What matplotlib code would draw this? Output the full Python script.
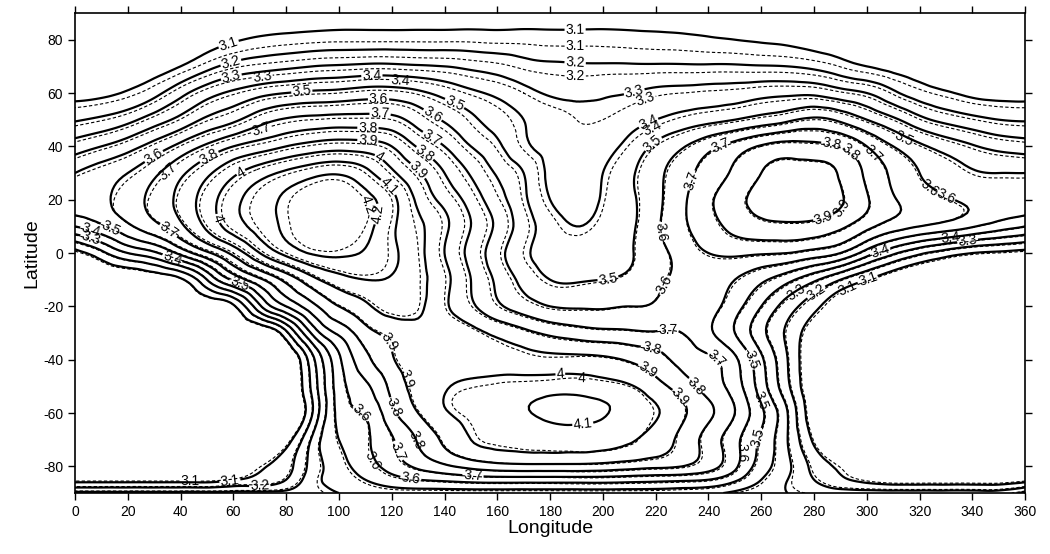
import numpy as np
import matplotlib
matplotlib.use("Agg")
import matplotlib.pyplot as plt
import matplotlib.tri as mtri

plt.rcParams['font.family'] = ['Liberation Sans', 'DejaVu Sans']
plt.rcParams['axes.unicode_minus'] = False

# grid of the field (solid contours)
lons = list(range(0, 360, 10))
lats = [90, 80, 70, 60, 50, 40, 30, 20, 10, 0, -10, -20, -30, -40, -50, -60, -70, -80, -85, -90]

solid_field = [
    [3.0]*9 + [3.01] + [3.03]*13 + [3.02, 3.01] + [3.0]*11,
    [3.0, 3.0, 3.0, 3.01, 3.03, 3.06, 3.09, 3.115, 3.13, 3.14, 3.145, 3.145, 3.145, 3.145, 3.145, 3.145, 3.14,
     3.14, 3.135, 3.135, 3.135, 3.13, 3.125, 3.12, 3.11, 3.1, 3.09, 3.08, 3.06, 3.04, 3.02, 3.01, 3.0, 3.0,
     3.0, 3.0],
    [3.02, 3.02, 3.04, 3.06, 3.1, 3.17, 3.23, 3.26, 3.28, 3.3, 3.31, 3.32, 3.32, 3.31, 3.3, 3.28, 3.26, 3.23,
     3.215, 3.21, 3.21, 3.21, 3.21, 3.21, 3.21, 3.21, 3.205, 3.2, 3.18, 3.14, 3.1, 3.07, 3.05, 3.03,
     3.02, 3.02],
    [3.07, 3.08, 3.11, 3.17, 3.27, 3.36, 3.42, 3.47, 3.5, 3.52, 3.53, 3.55, 3.55, 3.52, 3.47, 3.42, 3.38, 3.33,
     3.29, 3.28, 3.29, 3.3, 3.32, 3.33, 3.34, 3.35, 3.37, 3.38, 3.38, 3.34, 3.3, 3.22, 3.15, 3.11, 3.08, 3.07],
    [3.19, 3.22, 3.27, 3.35, 3.43, 3.52, 3.58, 3.66, 3.71, 3.73, 3.74, 3.74, 3.73, 3.66, 3.59, 3.52, 3.46, 3.4,
     3.36, 3.33, 3.33, 3.36, 3.4, 3.44, 3.47, 3.5, 3.54, 3.58, 3.62, 3.58, 3.5, 3.42, 3.33, 3.27, 3.23, 3.2],
    [3.35, 3.4, 3.46, 3.54, 3.63, 3.72, 3.8, 3.85, 3.9, 3.94, 3.96, 3.95, 3.9, 3.79, 3.7, 3.6, 3.52, 3.42,
     3.37, 3.35, 3.37, 3.43, 3.52, 3.59, 3.67, 3.74, 3.81, 3.84, 3.83, 3.8, 3.7, 3.6, 3.52, 3.46, 3.41, 3.37],
    [3.5, 3.55, 3.6, 3.68, 3.78, 3.88, 3.98, 4.06, 4.12, 4.17, 4.19, 4.13, 4.02, 3.91, 3.8, 3.69, 3.59, 3.5,
     3.38, 3.36, 3.4, 3.48, 3.57, 3.66, 3.74, 3.82, 3.9, 3.93, 3.93, 3.89, 3.78, 3.68, 3.6, 3.55, 3.51, 3.5],
    [3.56, 3.58, 3.65, 3.73, 3.83, 3.95, 4.07, 4.15, 4.22, 4.27, 4.28, 4.23, 4.13, 3.98, 3.87, 3.76, 3.64, 3.52,
     3.4, 3.36, 3.41, 3.48, 3.57, 3.68, 3.78, 3.87, 3.93, 3.96, 3.95, 3.91, 3.81, 3.71, 3.65, 3.61, 3.58, 3.56],
    [3.4, 3.48, 3.58, 3.67, 3.78, 3.92, 4.05, 4.14, 4.22, 4.27, 4.27, 4.23, 4.12, 4.02, 3.92, 3.8, 3.68, 3.55,
     3.45, 3.4, 3.43, 3.48, 3.58, 3.68, 3.76, 3.83, 3.87, 3.88, 3.87, 3.82, 3.73, 3.65, 3.6, 3.56, 3.51, 3.45],
    [3.06, 3.17, 3.3, 3.38, 3.53, 3.68, 3.83, 4.0, 4.13, 4.21, 4.22, 4.19, 4.12, 4.03, 3.9, 3.77, 3.64, 3.52,
     3.46, 3.44, 3.45, 3.49, 3.56, 3.64, 3.7, 3.72, 3.71, 3.7, 3.66, 3.6, 3.45, 3.32, 3.22, 3.15, 3.1, 3.08],
    [2.97, 2.98, 2.99, 3.02, 3.08, 3.3, 3.52, 3.68, 3.83, 3.97, 4.06, 4.1, 4.09, 4.03, 3.93, 3.8, 3.68, 3.57,
     3.5, 3.49, 3.5, 3.52, 3.57, 3.63, 3.64, 3.6, 3.52, 3.43, 3.32, 3.2, 3.1, 3.02, 2.98, 2.97, 2.97, 2.97],
    [2.95, 2.95, 2.95, 2.96, 2.97, 3.0, 3.08, 3.38, 3.6, 3.77, 3.9, 3.98, 4.04, 4.02, 3.92, 3.82, 3.72, 3.65,
     3.6, 3.59, 3.59, 3.6, 3.61, 3.66, 3.64, 3.54, 3.4, 3.25, 3.13, 3.02, 2.97, 2.95, 2.95, 2.95, 2.95, 2.95],
    [2.94, 2.94, 2.93, 2.93, 2.93, 2.94, 2.95, 2.98, 3.17, 3.52, 3.72, 3.86, 3.93, 3.97, 3.96, 3.93, 3.88, 3.83,
     3.78, 3.75, 3.73, 3.72, 3.71, 3.7, 3.62, 3.5, 3.33, 3.18, 3.03, 2.96, 2.94, 2.94, 2.94, 2.94, 2.94, 2.94],
    [2.93, 2.92, 2.92, 2.92, 2.92, 2.92, 2.92, 2.93, 2.97, 3.27, 3.58, 3.77, 3.89, 3.94, 3.96, 3.96, 3.95, 3.94,
     3.93, 3.93, 3.92, 3.89, 3.84, 3.77, 3.72, 3.62, 3.42, 3.2, 3.0, 2.93, 2.93, 2.93, 2.93, 2.93, 2.93, 2.93],
    [2.92]*8 + [2.96, 3.23, 3.55, 3.68, 3.83, 3.93, 3.99, 4.02, 4.04, 4.05, 4.06, 4.06, 4.04, 4.01, 3.94, 3.85,
                3.76, 3.65, 3.45, 3.22, 3.0] + [2.93]*7,
    [2.92]*8 + [2.95, 3.2, 3.53, 3.61, 3.77, 3.9, 3.99, 4.03, 4.06, 4.09, 4.12, 4.13, 4.11, 4.06, 4.01, 3.92,
                3.82, 3.7, 3.52, 3.3, 3.02] + [2.93]*7,
    [2.93]*7 + [2.95, 3.05, 3.32, 3.5, 3.58, 3.69, 3.81, 3.92, 4.0, 4.03, 4.04, 4.05, 4.05, 4.04, 4.01, 3.96,
                3.87, 3.76, 3.63, 3.48, 3.3, 3.08, 2.96] + [2.94]*6,
    [2.96]*7 + [3.08, 3.16, 3.34, 3.46, 3.55, 3.64, 3.72, 3.78, 3.83, 3.86, 3.87, 3.87, 3.87, 3.86, 3.84, 3.82,
                3.8, 3.74, 3.62, 3.45, 3.32, 3.17, 3.08, 3.02] + [2.98]*5,
    [3.06]*6 + [3.09, 3.13, 3.2, 3.36, 3.44, 3.5, 3.56, 3.6, 3.62, 3.64, 3.65, 3.65, 3.65, 3.65, 3.65, 3.64, 3.63,
                3.62, 3.6, 3.52, 3.4, 3.3, 3.2, 3.12, 3.07] + [3.04]*5,
    [3.33]*9 + [3.36, 3.4, 3.43] + [3.45]*11 + [3.44, 3.42, 3.38, 3.34, 3.3, 3.27] + [3.25]*7,
]

# offset of the dashed field from the solid one, on a coarse grid
delta_lats = [90, 60, 30, 0, -30, -60, -90]
delta_lons = [0, 60, 120, 180, 240, 300, 360]
dashed_offset = [
    [-0.07, -0.07, -0.07, -0.07, -0.07, -0.07, -0.07],
    [-0.03, -0.03, -0.03, -0.03, -0.03, -0.03, -0.03],
    [-0.02, -0.03, -0.03, -0.03, 0.0, 0.0, -0.02],
    [0.02, -0.03, -0.03, -0.02, 0.01, 0.01, 0.02],
    [0.02, 0.02, -0.01, -0.01, 0.0, 0.02, 0.02],
    [0.02, 0.02, 0.0, -0.04, 0.0, 0.02, 0.02],
    [0.02, 0.02, 0.02, 0.02, 0.02, 0.02, 0.02],
]

levels = [3.1, 3.2, 3.3, 3.4, 3.5, 3.6, 3.7, 3.8, 3.9, 4.0, 4.1, 4.2]

# where the contour labels sit (lon, lat)
solid_label_pos = [
    (58, 79), (59, 71.6), (59.5, 65), (86, 60), (112.5, 66), (115, 57.4), (115.6, 52.5), (111, 48),
    (111, 43.5), (115, 35.6), (143, 54.4), (135, 51), (135, 43), (132.6, 37.5), (130, 31), (50, 37.5),
    (30, 36), (63, 30), (14, 10.5), (5.7, 7.9), (5.7, 4.9), (37, 11), (56, 13.5), (37, -1.5),
    (62.5, -11), (111, 15.4), (117.5, 23.6), (189.5, 82.5), (189.5, 71.6), (212, 60), (216.7, 50),
    (219, 41), (244.4, 40.5), (287, 42.4), (292.5, 36), (282, 18), (328.5, 18.7), (233, 27.4),
    (222.8, 8), (305, 1), (338, 5.6), (281, -15), (301, -12), (202, -10), (224.7, -12.7),
    (224.7, -29), (218, -37), (216.7, -44), (241.8, -41), (237.6, -47.6), (230.4, -53), (184, -47.6),
    (192.5, -65.6), (255.8, -40), (257.7, -69), (118.6, -33.4), (121, -57.7), (125.8, -73),
    (108.8, -59.6), (127, -86.2), (150.8, -83), (58.7, -85.5), (70, -87),
]
dashed_label_pos = [
    (71, 65.5), (123, 64), (71, 45), (34, 32), (189.5, 78.7), (189.5, 66.7), (216, 58), (218, 48),
    (303.9, 38.6), (313.4, 41.2), (290, 17.2), (325, 26.2), (331.6, 6.7), (292.5, -12.7),
    (274.7, -17), (192, -48.7), (124, -47.6), (130, -70), (114.4, -77), (258.4, -56), (252, -75),
    (43.6, -84), (108, 17),
]

# build the grids (wrap 360 = 0)
z_solid = np.array(solid_field)
z_solid = np.hstack([z_solid, z_solid[:, :1]])
lon_grid = np.array(lons + [360])
LON, LAT = np.meshgrid(lon_grid, np.array(lats, dtype=float))
ny, nx = z_solid.shape
idx = np.arange(ny * nx).reshape(ny, nx)
triangles = []
for i in range(ny - 1):
    for j in range(nx - 1):
        triangles.append([idx[i, j], idx[i, j + 1], idx[i + 1, j]])
        triangles.append([idx[i, j + 1], idx[i + 1, j + 1], idx[i + 1, j]])
tri = mtri.Triangulation(LON.ravel(), LAT.ravel(), np.array(triangles))

# dashed field = solid + offset
DLON, DLAT = np.meshgrid(np.array(delta_lons, dtype=float), np.array(delta_lats, dtype=float))
tri_d = mtri.Triangulation(DLON.ravel(), DLAT.ravel())
off = mtri.LinearTriInterpolator(tri_d, np.array(dashed_offset).ravel())(LON, LAT)
z_dashed = z_solid + np.ma.filled(off, 0.0)

refiner = mtri.UniformTriRefiner(tri)
interp_s = mtri.CubicTriInterpolator(tri, z_solid.ravel(), kind='min_E')
tri_f, zs_f = refiner.refine_field(z_solid.ravel(), triinterpolator=interp_s, subdiv=3)
interp_d = mtri.CubicTriInterpolator(tri, z_dashed.ravel(), kind='min_E')
tri_f2, zd_f = refiner.refine_field(z_dashed.ravel(), triinterpolator=interp_d, subdiv=3)

fig = plt.figure(figsize=(10.5, 5.54), dpi=100)
ax = fig.add_axes([0.0714, 0.110, 0.905, 0.8665])

cd = ax.tricontour(tri_f2, zd_f, levels=levels, colors='k', linewidths=0.8,
                   linestyles=[(0, (3, 2))])
cs = ax.tricontour(tri_f, zs_f, levels=levels, colors='k', linewidths=1.6)
ax.set_xlim(0, 360)
ax.set_ylim(-90, 90)
ax.clabel(cd, fmt='%g', fontsize=10, inline=True, inline_spacing=1, manual=dashed_label_pos)
ax.clabel(cs, fmt='%g', fontsize=10, inline=True, inline_spacing=1, manual=solid_label_pos)

ax.set_xticks(range(0, 361, 20))
ax.set_yticks(range(-80, 81, 20))
ax.tick_params(direction='out', top=True, right=True, labelsize=10, length=5, width=1)
for s in ax.spines.values():
    s.set_linewidth(1.2)
ax.set_xlabel('Longitude', fontsize=14, labelpad=1)
ax.set_ylabel('Latitude', fontsize=14, labelpad=2)

fig.savefig('out.png', dpi=100)
